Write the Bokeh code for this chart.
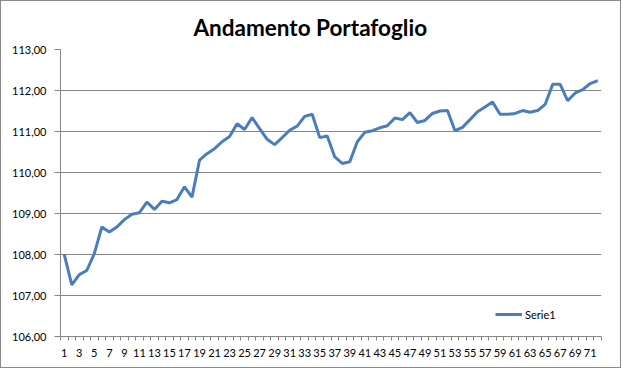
from bokeh.plotting import figure
from bokeh.models import Range1d, FixedTicker, Legend, LegendItem
from bokeh.embed import file_html
from bokeh.resources import INLINE

# ---- data ----
periodi = list(range(1, 73))
valori = [
    108.00, 107.26, 107.51, 107.61, 108.02, 108.67, 108.55, 108.67, 108.85, 108.98,
    109.02, 109.28, 109.10, 109.30, 109.26, 109.34, 109.65, 109.40, 110.30, 110.46,
    110.58, 110.75, 110.88, 111.19, 111.05, 111.34, 111.07, 110.81, 110.68, 110.85,
    111.03, 111.13, 111.37, 111.42, 110.85, 110.89, 110.38, 110.22, 110.26, 110.75,
    110.98, 111.02, 111.09, 111.14, 111.33, 111.29, 111.46, 111.22, 111.27, 111.44,
    111.50, 111.51, 111.02, 111.10, 111.29, 111.48, 111.60, 111.72, 111.42, 111.42,
    111.44, 111.51, 111.47, 111.51, 111.66, 112.15, 112.15, 111.75, 111.94, 112.02,
    112.17, 112.24,
]
y_ticks = [106, 107, 108, 109, 110, 111, 112, 113]
y_tick_labels = ["106,00", "107,00", "108,00", "109,00", "110,00", "111,00", "112,00", "113,00"]
x_label_ticks = [n for n in periodi if n % 2 == 1]
titolo = "Andamento Portafoglio"
serie = "Serie1"

FONT = "Lato"
GRAY = "#868686"

p = figure(width=621, height=368, output_backend="svg", toolbar_location=None,
           x_range=Range1d(0.5, len(periodi) + 0.5), y_range=Range1d(106, 113),
           min_border_left=59, min_border_right=21, min_border_top=48, min_border_bottom=33)
p.styles = {"border": "1px solid #8a8a8a"}
p.outline_line_color = None
p.background_fill_color = "white"
p.border_fill_color = "white"

# title
p.title.text = titolo
p.title.align = "left"
p.title.offset = 133
p.title.text_font = FONT
p.title.text_font_size = "22.5px"
p.title.text_font_style = "bold"
p.title.text_color = "black"
p.title.standoff = 17

# line
r = p.line(periodi, valori, line_color="#4A7EBB", line_width=3)

# y axis
p.yaxis.ticker = FixedTicker(ticks=y_ticks, minor_ticks=[])
p.yaxis.major_label_overrides = {t: l for t, l in zip(y_ticks, y_tick_labels)}
p.yaxis.axis_line_color = GRAY
p.yaxis.major_tick_line_color = GRAY
p.yaxis.major_tick_in = 0
p.yaxis.major_tick_out = 6
p.yaxis.minor_tick_line_color = None
p.yaxis.major_label_standoff = 8
p.yaxis.major_label_text_font = FONT
p.yaxis.major_label_text_font_size = "11px"
p.yaxis.major_label_text_color = "black"

# x axis
p.xaxis.ticker = FixedTicker(ticks=x_label_ticks,
                             minor_ticks=[n - 0.5 for n in periodi] + [len(periodi) + 0.5])
p.xaxis.axis_line_color = GRAY
p.xaxis.major_tick_line_color = None
p.xaxis.major_tick_in = 0
p.xaxis.major_tick_out = 4
p.xaxis.minor_tick_line_color = GRAY
p.xaxis.minor_tick_in = 0
p.xaxis.minor_tick_out = 4
p.xaxis.major_label_standoff = 8
p.xaxis.major_label_text_font = FONT
p.xaxis.major_label_text_font_size = "11px"
p.xaxis.major_label_text_color = "black"

# grid
p.xgrid.grid_line_color = None
p.ygrid.ticker = FixedTicker(ticks=y_ticks)
p.ygrid.grid_line_color = GRAY
p.ygrid.grid_line_width = 1

# legend
legend = Legend(items=[LegendItem(label=serie, renderers=[r])], location=(435, 15),
                padding=0, margin=0, spacing=0, glyph_width=27, glyph_height=14,
                label_height=14, label_standoff=3, border_line_color=None,
                background_fill_alpha=0, label_text_font=FONT,
                label_text_font_size="11px", label_text_color="black")
p.add_layout(legend, "center")

open("out.html", "w").write(file_html(p, INLINE))
